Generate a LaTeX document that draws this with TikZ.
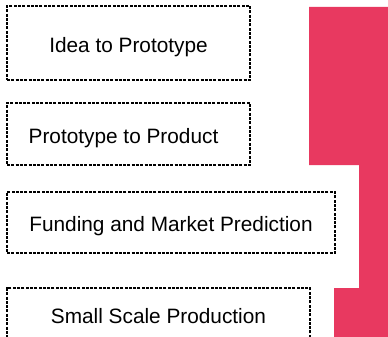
\documentclass[tikz,border=0pt]{standalone}
\usepackage{fontspec}
\setmainfont{Liberation Sans}
\definecolor{stairred}{RGB}{232,57,96}

\begin{document}
\begin{tikzpicture}[
    x=1pt, y=-1pt,
    stage/.style={draw, dash pattern=on 3pt off 1.3pt, line width=1.2pt,
        font=\fontsize{20.8}{24}\selectfont, text height=18.5pt, text depth=0pt,
        inner sep=0pt}
    ]

    \useasboundingbox (0,0) rectangle (388,337);
    \clip (0,0) rectangle (388,337);

    % staircase on the right
    \fill[stairred] (309,7) -- (395,7) -- (395,345) -- (334,345) -- (334,288)
        -- (359,288) -- (359,165) -- (309,165) -- cycle;

    \node[stage, minimum width=243pt, minimum height=74pt] (idea) at (128.5,43) {Idea to Prototype};
    \node[stage, minimum width=243pt, minimum height=62pt] (proto) at (128.5,134) {\hspace*{-10pt}Prototype to Product};
    \node[stage, minimum width=328pt, minimum height=61pt] (funding) at (171,222.5) {Funding and Market Prediction};
    \node[stage, minimum width=303pt, minimum height=52pt] (small) at (158.5,314) {Small Scale Production};

\end{tikzpicture}
\end{document}
